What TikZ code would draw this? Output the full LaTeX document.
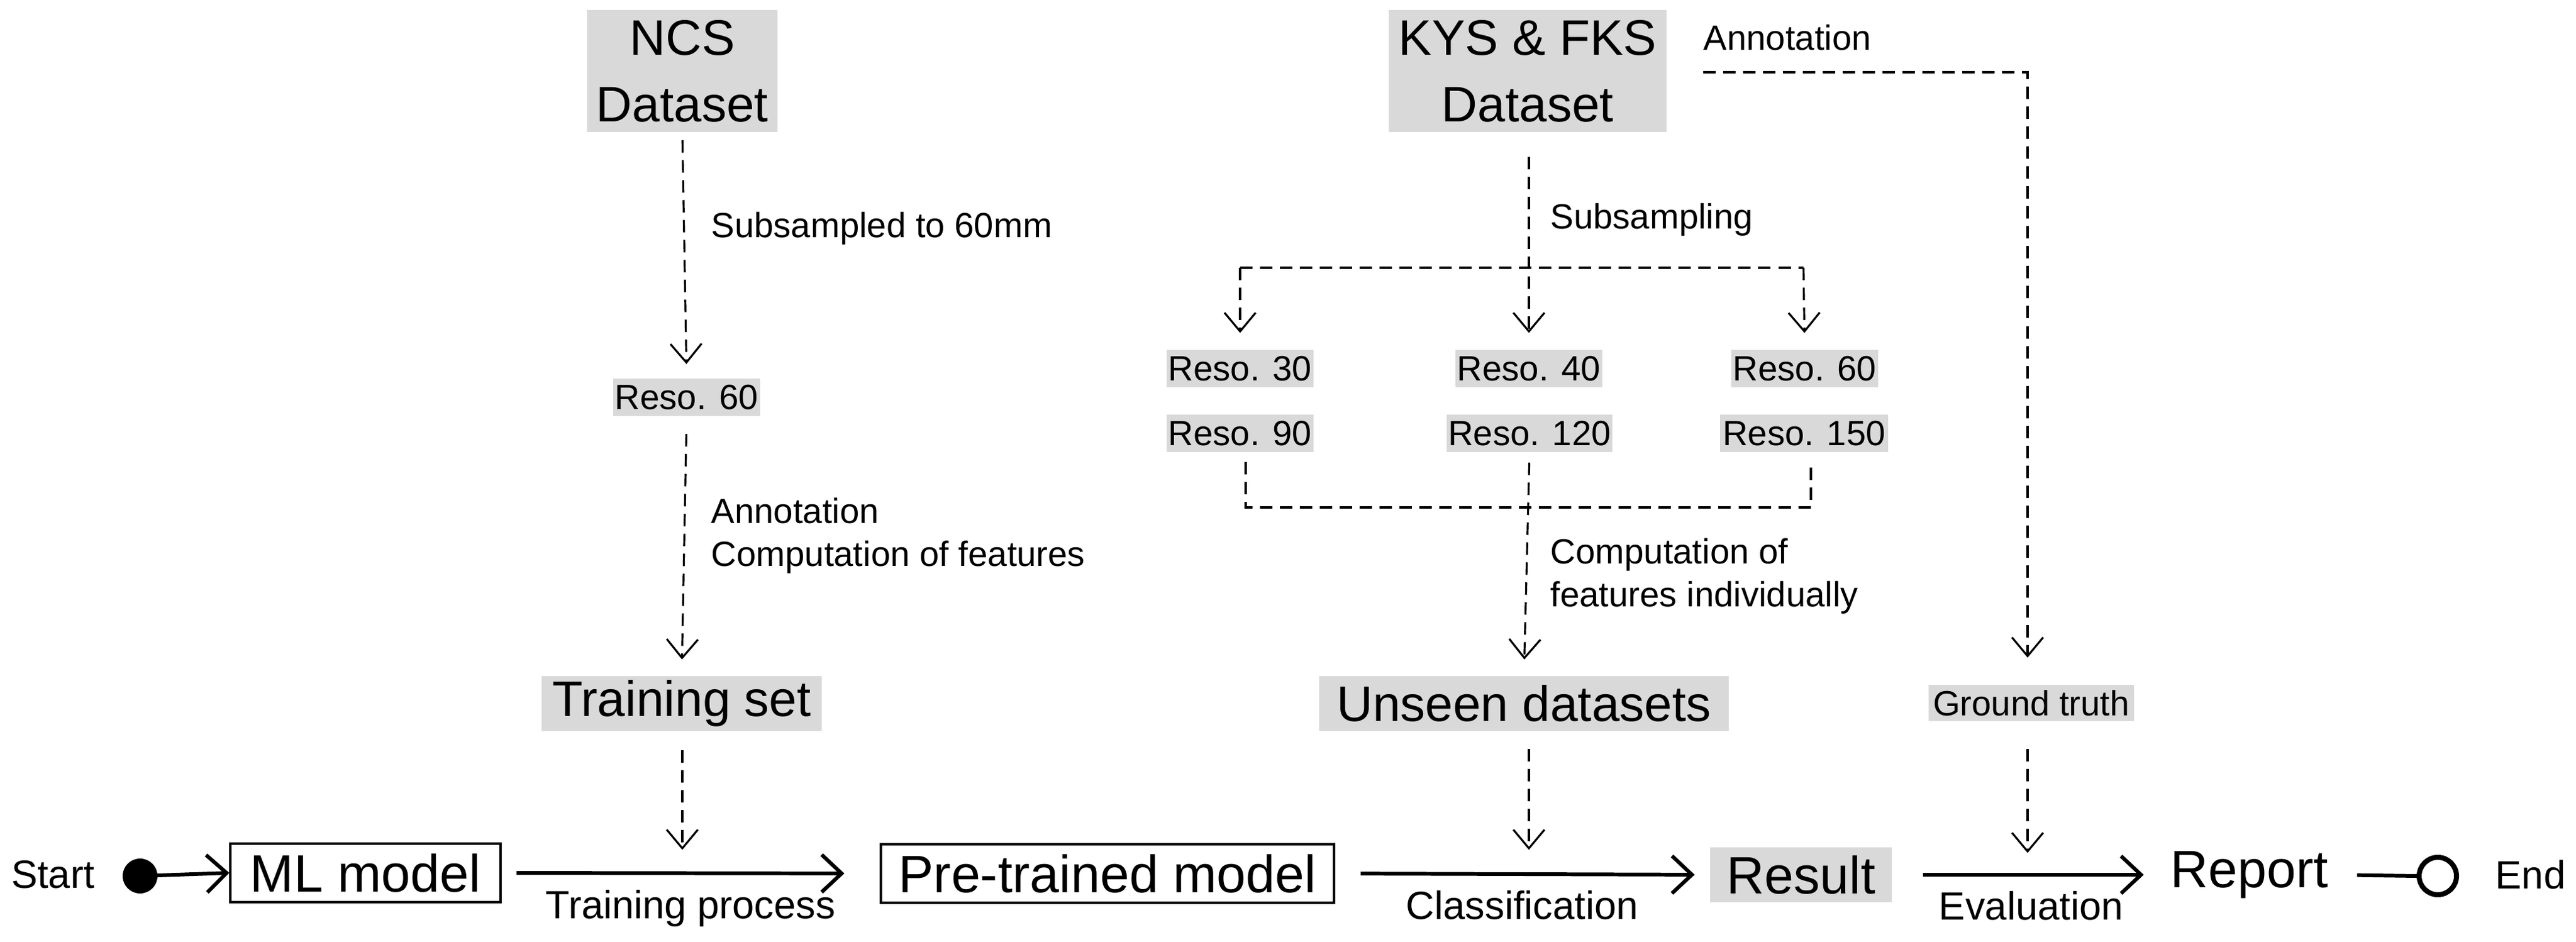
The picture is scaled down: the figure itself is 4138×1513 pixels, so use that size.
\documentclass[tikz,border=0pt]{standalone}
\usepackage{fontspec}
\setmainfont{Liberation Sans}
\usetikzlibrary{arrows.meta}
\definecolor{boxgray}{HTML}{D9D9D9}
\begin{document}
\begin{tikzpicture}[x=0.01cm,y=-0.01cm,
  big/.style={font=\fontsize{22.8}{30.4}\selectfont},
  med/.style={font=\fontsize{24}{28}\selectfont},
  small/.style={font=\fontsize{16}{19.6}\selectfont},
  lab/.style={font=\fontsize{18}{21}\selectfont},
  gbox/.style={fill=boxgray,inner sep=0pt,align=center},
  fbox/.style={draw,line width=1.1pt,inner sep=0pt,med},
  dsh/.style={line width=0.9pt,dash pattern=on 0.2cm off 0.12cm},
  darr/.style={dsh,-{Straight Barb[length=0.3cm,width=0.5cm,line width=0.9pt]}},
  marr/.style={line width=1.7pt,-{Straight Barb[length=0.32cm,width=0.6cm,line width=1.7pt]}},
  note/.style={small,anchor=west,align=left,inner sep=0pt}]
\useasboundingbox (0,0) rectangle (4138,1513);
% top nodes
\node[gbox,big,minimum width=3.06cm,minimum height=1.95cm] (ncs) at (1096,114) {NCS\\Dataset};
\node[gbox,big,minimum width=4.46cm,minimum height=1.95cm] (kys) at (2454,114) {KYS \& FKS\\Dataset};
\node[gbox,small,minimum width=2.36cm,minimum height=0.59cm] (r60l) at (1103,638) {Reso. 60};
\node[gbox,big,minimum width=4.5cm,minimum height=0.88cm] (train) at (1095,1130) {Training set};
\node[gbox,small,minimum width=2.35cm,minimum height=0.59cm] (r30) at (1992,592) {Reso. 30};
\node[gbox,small,minimum width=2.35cm,minimum height=0.59cm] (r90) at (1992,696) {Reso. 90};
\node[gbox,small,minimum width=2.35cm,minimum height=0.59cm] (r40) at (2456,592) {Reso. 40};
\node[gbox,small,minimum width=2.66cm,minimum height=0.59cm] (r120) at (2457,696) {Reso. 120};
\node[gbox,small,minimum width=2.36cm,minimum height=0.59cm] (r60) at (2899,592) {Reso. 60};
\node[gbox,small,minimum width=2.69cm,minimum height=0.59cm] (r150) at (2898,696) {Reso. 150};
\node[gbox,big,minimum width=6.57cm,minimum height=0.88cm] (unseen) at (2448,1130) {Unseen datasets};
\node[gbox,small,minimum width=3.3cm,minimum height=0.58cm] (gt) at (3263,1129) {Ground truth};
% main row
\node[lab,inner sep=0pt] (start) at (85,1405) {Start};
\fill (225,1407) circle (28) coordinate (dot);
\node[fbox,minimum width=4.33cm,minimum height=0.94cm] (ml) at (587,1402) {ML model};
\node[fbox,minimum width=7.27cm,minimum height=0.94cm] (pre) at (1779,1403) {Pre-trained model};
\node[gbox,med,minimum width=2.92cm,minimum height=0.87cm] (res) at (2893,1405) {Result};
\node[med,inner sep=0pt] (rep) at (3613,1405) {Report};
\draw[line width=2.3pt] (3916,1407) circle (30);
\coordinate (endc) at (3882,1407);
\node[lab,inner sep=0pt] (endl) at (4065,1405) {End};
\draw[marr] (dot) -- (ml.west);
\draw[marr,shorten <=0.24cm,shorten >=0.57cm] (ml.east) -- (pre.west) node[midway,below=0.12cm,lab] {Training process};
\draw[marr,shorten <=0.41cm,shorten >=0.24cm] (pre.east) -- (res.west) node[midway,below=0.12cm,lab] {Classification};
\draw[marr,shorten <=0.49cm,shorten >=0.42cm] (res.east) -- (rep.west) node[midway,below=0.12cm,lab] {Evaluation};
\draw[line width=1.7pt,shorten <=0.46cm] (rep.east) -- (endc);
% dashed connectors
\coordinate (t1) at (1096,1365);
\coordinate (t2) at (2456,1365);
\coordinate (t3) at (3257,1370);
\draw[darr,shorten <=0.13cm,shorten >=0.23cm] (ncs.south) -- (r60l.north);
\draw[darr,shorten <=0.29cm,shorten >=0.26cm] (r60l.south) -- (train.north);
\draw[darr,shorten <=0.3cm] (train.south -| t1) -- (t1);
\draw[darr,shorten <=0.4cm,shorten >=0.27cm] (kys.south -| r40.north) -- (r40.north);
\coordinate (bl) at (1992,430);
\coordinate (br) at (2897,430);
\draw[dsh] (bl) -- (br);
\draw[darr,shorten >=0.27cm] (bl) -- (r30.north);
\draw[darr,shorten >=0.27cm] (br) -- (r60.north);
\coordinate (jl) at (2001,815);
\coordinate (jr) at (2909,815);
\draw[dsh] (2001,742) -- (jl) -- (jr) -- (2909,742);
\draw[darr,shorten <=0.17cm,shorten >=0.26cm] (r120.south) -- (unseen.north);
\draw[darr,shorten <=0.28cm] (unseen.south -| t2) -- (t2);
\coordinate (a1) at (2736,116);
\coordinate (a2) at (3257,116);
\draw[darr,shorten >=0.43cm] (a1) -- (a2) -- (a2 |- gt.north);
\draw[darr,shorten <=0.44cm] (gt.south -| t3) -- (t3);
% labels
\node[note] (l1) at (1142,367) {Subsampled to 60mm};
\node[note] (l2) at (1142,860) {Annotation\\Computation of features};
\node[note] (l3) at (2490,353) {Subsampling};
\node[note] (l4) at (2490,925) {Computation of\\features individually};
\node[note] (l5) at (2736,60) {Annotation};
\end{tikzpicture}
\end{document}
